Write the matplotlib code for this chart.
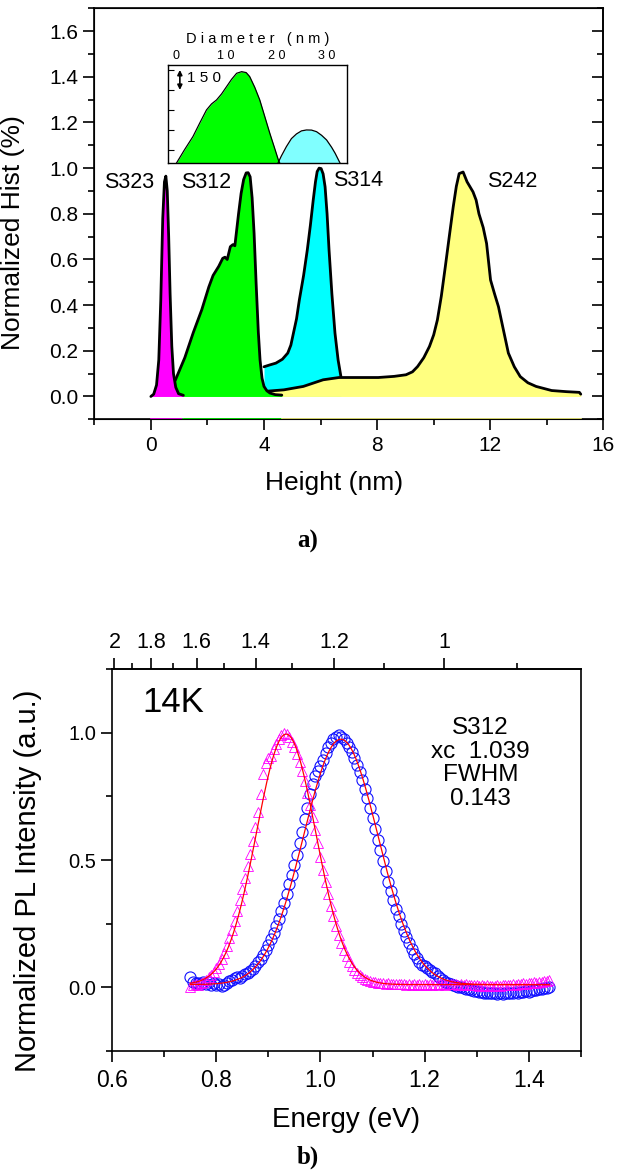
import numpy as np
import matplotlib
matplotlib.use("Agg")
import matplotlib.pyplot as plt
from matplotlib.ticker import MultipleLocator, FixedLocator

plt.rcParams['font.family'] = ['Liberation Sans', 'DejaVu Sans']

# ---- (a) height histograms, normalized ----
s323_x = [0.0, 0.1, 0.2, 0.28, 0.35, 0.42, 0.48, 0.53, 0.58, 0.63, 0.68, 0.74, 0.8, 0.88, 0.98, 1.15]
s323_y = [0.0, 0.01, 0.05, 0.16, 0.42, 0.78, 0.94, 0.965, 0.9, 0.7, 0.45, 0.22, 0.1, 0.04, 0.012, 0.005]

s312_x = [0.86, 1.2, 1.5, 1.8, 2.05, 2.2, 2.4, 2.54, 2.62, 2.7, 2.81, 2.9, 2.97, 3.02, 3.1, 3.19,
          3.28, 3.37, 3.44, 3.51, 3.58, 3.65, 3.72, 3.8, 3.86, 3.93, 4.0, 4.1, 4.21, 4.4, 4.63]
s312_y = [0.07, 0.17, 0.28, 0.38, 0.48, 0.53, 0.57, 0.605, 0.61, 0.6, 0.656, 0.665, 0.66, 0.714, 0.8, 0.889,
          0.95, 0.979, 0.98, 0.962, 0.87, 0.714, 0.5, 0.28, 0.16, 0.08, 0.044, 0.025, 0.015, 0.008, 0.006]

s314_x = [4.0, 4.2, 4.42, 4.65, 4.84, 4.95, 5.04, 5.15, 5.25, 5.4, 5.53, 5.64, 5.74, 5.82, 5.88,
          5.95, 6.02, 6.09, 6.16, 6.23, 6.3, 6.4, 6.51, 6.62, 6.72]
s314_y = [0.13, 0.138, 0.146, 0.163, 0.19, 0.225, 0.277, 0.34, 0.423, 0.53, 0.641, 0.75, 0.86, 0.94, 0.985,
          1.0, 0.998, 0.975, 0.918, 0.8, 0.641, 0.45, 0.277, 0.16, 0.087]

s242_x = [4.0, 4.7, 5.39, 6.09, 6.65, 7.3, 8.04, 8.6, 9.02, 9.25, 9.43, 9.65, 9.85, 10.0, 10.13, 10.27,
          10.41, 10.55, 10.69, 10.8, 10.9, 11.04, 11.18, 11.39, 11.5, 11.6, 11.75, 11.87, 12.01, 12.15,
          12.29, 12.45, 12.64, 12.85, 13.06, 13.33, 13.62, 14.17, 14.7, 15.15, 15.2]
s242_y = [0.022, 0.029, 0.044, 0.073, 0.083, 0.083, 0.083, 0.088, 0.095, 0.108, 0.131, 0.17, 0.219, 0.27,
          0.335, 0.44, 0.568, 0.7, 0.83, 0.92, 0.976, 0.983, 0.94, 0.896, 0.86, 0.8, 0.74, 0.67, 0.51,
          0.45, 0.393, 0.3, 0.19, 0.13, 0.087, 0.06, 0.044, 0.026, 0.021, 0.018, 0.01]

# inset: diameter distribution (counts)
dia_green_x = [0.1, 1.7, 3.4, 4.8, 6.1, 7.1, 8.1, 9.1, 10.1, 11.1, 12.1, 13.1, 14.0, 14.7, 15.7, 16.7, 17.7, 18.7, 19.6, 20.4, 20.7]
dia_green_y = [0, 100, 200, 305, 400, 445, 475, 520, 575, 630, 675, 687, 680, 650, 570, 475, 350, 225, 120, 25, 0]
dia_cyan_x = [20.3, 21.0, 22.0, 23.0, 24.0, 25.0, 26.0, 27.0, 28.0, 29.0, 30.0, 31.0, 31.7, 32.7]
dia_cyan_y = [0, 55, 125, 185, 220, 243, 250, 249, 237, 210, 175, 120, 75, 0]

# ---- (b) PL spectra at 14K ----
pl_e0, pl_step = 0.750, 0.005
pl_s312 = [0.040, 0.020, 0.015, 0.018, 0.012, 0.020, 0.014, 0.022, 0.010, 0.016,
           0.008, 0.012, 0.004, 0.010, 0.018, 0.025, 0.030, 0.035, 0.040, 0.036,
           0.045, 0.050, 0.055, 0.062, 0.070, 0.085, 0.100, 0.112, 0.128, 0.145,
           0.165, 0.188, 0.212, 0.240, 0.268, 0.300, 0.332, 0.368, 0.405, 0.440,
           0.480, 0.520, 0.565, 0.610, 0.660, 0.705, 0.760, 0.800, 0.830, 0.850,
           0.870, 0.895, 0.920, 0.945, 0.960, 0.975, 0.985, 0.990, 0.982, 0.975,
           0.962, 0.945, 0.925, 0.900, 0.875, 0.845, 0.815, 0.780, 0.745, 0.705,
           0.665, 0.622, 0.580, 0.538, 0.495, 0.455, 0.415, 0.378, 0.342, 0.308,
           0.278, 0.248, 0.222, 0.196, 0.172, 0.150, 0.132, 0.115, 0.100, 0.088,
           0.082, 0.075, 0.066, 0.060, 0.055, 0.045, 0.035, 0.028, 0.022, 0.018,
           0.012, 0.008, 0.005, 0.002, 0.000, -0.003, -0.006, -0.008, -0.010, -0.014,
           -0.016, -0.018, -0.020, -0.022, -0.024, -0.025, -0.022, -0.025, -0.026, -0.025,
           -0.027, -0.024, -0.025, -0.022, -0.024, -0.020, -0.022, -0.018, -0.020, -0.016,
           -0.018, -0.014, -0.012, -0.010, -0.008, -0.006, -0.004, -0.002, 0.002]
pl_ref = [0.000, 0.008, 0.012, 0.010, 0.018, 0.022, 0.030, 0.038, 0.048, 0.060,
          0.075, 0.092, 0.112, 0.135, 0.162, 0.192, 0.225, 0.262, 0.300, 0.342,
          0.385, 0.430, 0.478, 0.525, 0.575, 0.630, 0.690, 0.760, 0.840, 0.880,
          0.900, 0.910, 0.935, 0.958, 0.975, 0.990, 1.000, 0.995, 0.985, 0.965,
          0.945, 0.918, 0.885, 0.850, 0.810, 0.765, 0.718, 0.668, 0.618, 0.565,
          0.512, 0.462, 0.412, 0.365, 0.320, 0.278, 0.240, 0.205, 0.174, 0.146,
          0.122, 0.100, 0.082, 0.068, 0.056, 0.046, 0.038, 0.032, 0.028, 0.024,
          0.022, 0.020, 0.018, 0.017, 0.016, 0.014, 0.015, 0.013, 0.014, 0.012,
          0.013, 0.011, 0.012, 0.010, 0.012, 0.010, 0.011, 0.009, 0.011, 0.010,
          0.012, 0.010, 0.011, 0.009, 0.012, 0.010, 0.011, 0.013, 0.010, 0.012,
          0.014, 0.011, 0.013, 0.010, 0.012, 0.009, 0.011, 0.008, 0.010, 0.007,
          0.009, 0.006, 0.008, 0.005, 0.007, 0.004, 0.006, 0.005, 0.007, 0.006,
          0.008, 0.007, 0.010, 0.008, 0.011, 0.010, 0.013, 0.012, 0.015, 0.014,
          0.017, 0.016, 0.019, 0.018, 0.021, 0.020, 0.024, 0.023, 0.028]

# Gauss fits (Origin form: y0 + A*exp(-2(x-xc)^2/w^2))
fit_s312 = dict(y0=0.01, A=0.965, xc=1.039, w=0.143)
fit_ref = dict(y0=0.01, A=0.985, xc=0.934, w=0.114)

# top axis: wavelength (um)
lam_ticks = [2, 1.8, 1.6, 1.4, 1.2, 1]
lam_labels = ['2', '1.8', '1.6', '1.4', '1.2', '1']
lam_minor = [1.9, 1.7, 1.5, 1.3, 1.1, 0.9]
LAM_K, LAM_OFF = 1.266, 0.029


def gauss(x, y0, A, xc, w):
    return y0 + A * np.exp(-2 * (x - xc) ** 2 / w ** 2)


def e2lam(e):
    e = np.asarray(e, dtype=float)
    with np.errstate(divide='ignore', invalid='ignore'):
        return LAM_K / (e + LAM_OFF)


def lam2e(lam):
    lam = np.asarray(lam, dtype=float)
    with np.errstate(divide='ignore', invalid='ignore'):
        return LAM_K / lam - LAM_OFF


W, H = 618, 1171
fig = plt.figure(figsize=(W / 100, H / 100), dpi=100)


def box(l, t, r, b):
    return [l / W, 1 - b / H, (r - l) / W, (b - t) / H]


# ================= panel a =================
ax = fig.add_axes(box(94.3, 8.3, 603.4, 419.3))
fills = [
    (s314_x, s314_y, '#00FFFF', 2),
    (s242_x, s242_y, '#FFFF80', 3),
    (s312_x, s312_y, '#00FF00', 4),
    (s323_x, s323_y, '#FF00FF', 5),
]
for xs, ys, col, z in fills:
    ax.fill_between(xs, 0, ys, color=col, lw=0, zorder=z)
    ax.plot(xs, ys, color='black', lw=2.0, zorder=z + 0.5, solid_capstyle='round')

# coloured traces along the bottom frame
ax.plot([0, 1.15], [-0.1, -0.1], color='#FF00FF', lw=1.2, clip_on=False, zorder=6)
ax.plot([1.15, 4.63], [-0.1, -0.1], color='#00FF00', lw=1.2, clip_on=False, zorder=6)
ax.plot([4.63, 15.2], [-0.1, -0.1], color='#FFFF80', lw=1.2, clip_on=False, zorder=6)

ax.set_xlim(-2, 16)
ax.set_ylim(-0.1, 1.7)
ax.xaxis.set_major_locator(MultipleLocator(4))
ax.xaxis.set_minor_locator(MultipleLocator(2))
ax.yaxis.set_major_locator(MultipleLocator(0.2))
ax.yaxis.set_minor_locator(MultipleLocator(0.1))
ax.tick_params(axis='x', which='both', direction='out', top=False, labelsize=15, pad=4)
ax.tick_params(axis='y', which='both', direction='out', right=False, labelsize=15)
ax.tick_params(which='major', length=8, width=1.2)
ax.tick_params(which='minor', length=4, width=1.2)
ax.yaxis.set_major_formatter(plt.FuncFormatter(lambda v, p: f'{v:.1f}'))
for s in ax.spines.values():
    s.set_linewidth(1.2)

# inward ticks on the right frame
axr = ax.twinx()
axr.set_ylim(ax.get_ylim())
axr.yaxis.set_major_locator(MultipleLocator(0.2))
axr.yaxis.set_minor_locator(MultipleLocator(0.1))
axr.tick_params(which='both', direction='in', labelright=False, width=1.2)
axr.tick_params(which='major', length=8)
axr.tick_params(which='minor', length=4)
axr.spines['right'].set_linewidth(1.2)

ax.set_xlabel('Height (nm)', fontsize=19)
ax.xaxis.set_label_coords(0.471, -0.125)
ax.set_ylabel('Normalized Hist (%)', fontsize=19)
ax.yaxis.set_label_coords(-0.136, 0.4545)

for name, lx, ly in [('S323', -0.78, 0.936), ('S312', 1.97, 0.936),
                     ('S314', 7.34, 0.947), ('S242', 12.78, 0.94)]:
    ax.text(lx, ly, name, fontsize=15.5, ha='center', va='center', zorder=10)

# inset
ins = fig.add_axes(box(168.3, 65, 346.7, 163.3))
ins.fill_between(dia_green_x, 0, dia_green_y, color='#00FF00', lw=0)
ins.plot(dia_green_x, dia_green_y, color='black', lw=0.9)
ins.fill_between(dia_cyan_x, 0, dia_cyan_y, color='#80FFFF', lw=0)
ins.plot(dia_cyan_x, dia_cyan_y, color='black', lw=0.9)
ins.set_xlim(-1.5, 34)
ins.set_ylim(0, 737)
ins.xaxis.tick_top()
ins.xaxis.set_label_position('top')
ins.set_xticks([0, 10, 20, 30])
ins.set_xticklabels(['0', '1 0', '2 0', '3 0'])
ins.tick_params(axis='x', length=0, labelsize=9, pad=2)
ins.yaxis.set_major_locator(FixedLocator([100, 250, 400, 550, 700]))
ins.tick_params(axis='y', direction='in', length=4, labelleft=False)
ins.set_xlabel('D i a m e t e r   ( n m )', fontsize=10.5, labelpad=5)
for s in ins.spines.values():
    s.set_linewidth(1.0)
ins.annotate('', xy=(0.8, 550), xytext=(0.8, 700),
             arrowprops=dict(arrowstyle='<|-|>', color='black', lw=1.2,
                             mutation_scale=7, shrinkA=0, shrinkB=0))
ins.text(2.2, 640, '1 5 0', fontsize=11, va='center', ha='left')

fig.text(308 / W, 1 - 541 / H, 'a)', fontsize=18, fontweight='bold',
         family=['Liberation Serif', 'DejaVu Serif'], ha='center', va='center')

# ================= panel b =================
bx = fig.add_axes(box(112.3, 669.3, 580.7, 1050.7))
e_s312 = pl_e0 + pl_step * np.arange(len(pl_s312))
e_ref = pl_e0 + pl_step * np.arange(len(pl_ref))
bx.plot(e_s312, pl_s312, 'o', mfc='none', mec='#1010FF', ms=8, mew=0.8, zorder=2)
bx.plot(e_ref, pl_ref, '^', mfc='none', mec='#FF00FF', ms=7.5, mew=0.6, zorder=3)
e_fit = np.linspace(0.75, 1.44, 400)
bx.plot(e_fit, gauss(e_fit, **fit_s312), color='red', lw=0.9, zorder=4)
bx.plot(e_fit, gauss(e_fit, **fit_ref), color='red', lw=0.9, zorder=4)

bx.set_xlim(0.6, 1.5)
bx.set_ylim(-0.25, 1.25)
bx.xaxis.set_major_locator(MultipleLocator(0.2))
bx.xaxis.set_minor_locator(MultipleLocator(0.1))
bx.yaxis.set_major_locator(MultipleLocator(0.5))
bx.yaxis.set_minor_locator(MultipleLocator(0.25))
bx.xaxis.set_major_formatter(plt.FuncFormatter(lambda v, p: f'{v:.1f}'))
bx.yaxis.set_major_formatter(plt.FuncFormatter(lambda v, p: f'{v:.1f}'))
bx.tick_params(which='both', direction='out', top=False, right=False, width=1.2)
bx.tick_params(which='major', length=8)
bx.tick_params(which='minor', length=4)
bx.tick_params(axis='x', labelsize=16.5, pad=5)
bx.tick_params(axis='y', labelsize=14.5)
for s in bx.spines.values():
    s.set_linewidth(1.2)

top = bx.secondary_xaxis('top', functions=(e2lam, lam2e))
top.xaxis.set_major_locator(FixedLocator(lam_ticks))
top.xaxis.set_minor_locator(FixedLocator(lam_minor))
top.set_xticklabels(lam_labels)
top.tick_params(which='both', direction='out', width=1.2, labelsize=15.5, pad=4)
top.tick_params(which='major', length=8)
top.tick_params(which='minor', length=4)
top.spines['top'].set_linewidth(1.2)

bx.set_xlabel('Energy (eV)', fontsize=20)
bx.xaxis.set_label_coords(0.5, -0.148)
bx.set_ylabel('Normalized PL Intensity (a.u.)', fontsize=21)
bx.yaxis.set_label_coords(-0.151, 0.445)

bx.text(0.657, 1.084, '14K', fontsize=25, ha='left', va='baseline')
bx.text(1.307, 0.88, 'S312\nxc  1.039\nFWHM\n0.143', fontsize=17.5, ha='center',
        va='center', linespacing=1.1)

fig.text(308 / W, 1 - 1157 / H, 'b)', fontsize=18, fontweight='bold',
         family=['Liberation Serif', 'DejaVu Serif'], ha='center', va='center')

fig.savefig('out.png', dpi=100)
